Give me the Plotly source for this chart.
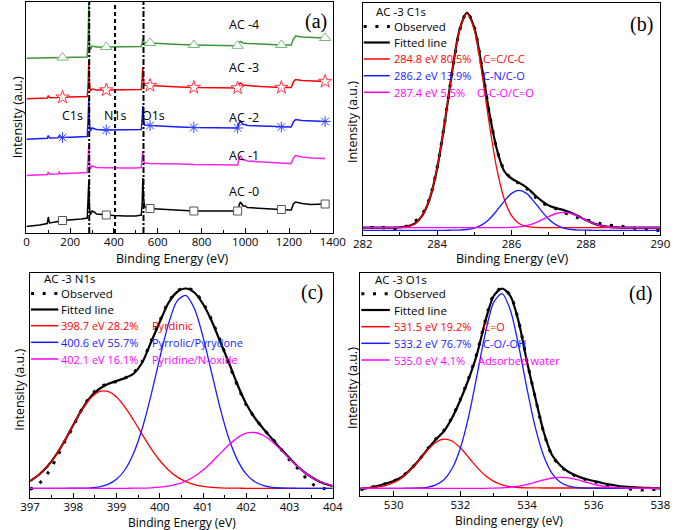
import plotly.graph_objects as go

W, H = 685, 530
FONT = "Open Sans"

# ---------------- (a) survey spectra ----------------
survey_x = [0, 30, 60, 95, 100, 105, 145, 150, 155, 165,
            200, 250, 278, 282, 285, 288, 292, 300, 310, 320,
            365, 400, 450, 500, 525, 529, 532, 535, 540, 565,
            600, 700, 765, 850, 950, 965, 972, 978, 990, 1000,
            1010, 1070, 1100, 1165, 1200, 1210, 1220, 1230, 1260, 1300,
            1365]
survey_ac0 = [6.5, 7, 8, 9.5, 16, 10, 11.5, 15, 12, 12.5,
              13, 14, 15, 30, 52, 25, 18, 22, 21, 19,
              18, 17.5, 17, 17, 18, 30, 55, 35, 26, 24.5,
              24, 23, 22, 22, 21.5, 22, 28, 31, 27, 27,
              25.5, 24.5, 24, 23.5, 23, 23, 29, 31, 29.5, 28.5,
              29]
survey_ac1 = [57.5, 57.8, 58, 58.5, 61, 58.7, 59, 61, 59.2, 59.3,
              59.6, 60.2, 60.5, 75, 88, 70, 64, 67, 66.5, 65.5,
              65.3, 65, 65, 65, 65.5, 75, 82, 72, 70, 69.5,
              69.5, 69, 68.5, 68, 67.5, 68, 75, 77, 73, 73,
              72, 71, 70.5, 70, 69.5, 69.5, 75, 77.5, 76, 75,
              74.5]
survey_ac2 = [93.7, 94, 94.3, 94.7, 97.5, 95, 95.3, 97, 95.5, 95.5,
              95.8, 96.3, 96.5, 115, 135, 110, 102, 105, 104.5, 103.5,
              103, 103, 103, 103, 103.5, 115, 127, 112, 108, 107.5,
              107, 106, 105.5, 105, 104.5, 105, 110, 112, 108.5, 108.5,
              107.5, 107, 106.5, 106, 106, 106, 111, 113.5, 112.5, 112,
              111.5]
survey_ac3 = [134.3, 134.5, 134.8, 135, 137.5, 135.2, 135.5, 137, 135.7, 135.8,
              136, 136.3, 136.5, 150, 172, 150, 142, 144, 143.5, 143,
              143, 143, 143, 143, 143.5, 155, 166, 152, 148, 147.5,
              147, 146, 145.5, 145, 144.5, 145, 149, 150, 148, 148,
              147.5, 146.5, 146, 145.5, 145.5, 145.5, 151, 153.5, 152.5, 152,
              151.5]
survey_ac4 = [174.7, 174.8, 175, 175.1, 175.5, 175.2, 175.3, 175.6, 175.4, 175.4,
              175.5, 175.7, 176, 195, 229, 190, 183, 187, 186.5, 186,
              186, 186, 186, 186, 186.5, 190, 194, 191, 190.5, 190,
              189.5, 188.5, 188, 187.5, 187, 187.2, 190.5, 191.5, 190, 190,
              189.5, 189, 188.5, 188, 188, 188, 194, 197, 196, 195.5,
              195]
survey_names = ["AC -0", "AC -1", "AC -2", "AC -3", "AC -4"]
survey_marker_x = [165, 365, 565, 765, 965, 1165, 1365]
survey_peak_names = ["C1s", "N1s", "O1s"]
survey_peak_pos = [287, 405, 535]

# ---------------- (b) C1s ----------------
c1s_x = [282.0, 282.2, 282.4, 282.6, 282.8, 283.0, 283.2, 283.4, 283.6, 283.8,
         284.0, 284.2, 284.4, 284.6, 284.8, 285.0, 285.2, 285.4, 285.6, 285.8,
         286.0, 286.2, 286.4, 286.6, 286.8, 287.0, 287.2, 287.4, 287.6, 287.8,
         288.0, 288.2, 288.4, 288.6, 288.8, 289.0, 289.2, 289.4, 289.6, 289.8, 290.0]
c1s_observed = [None, 7.6, 7.6, 7.3, 6.6, 6.4, 9.2, 13.5, 21.0, 37.0,
                67.5, 112.0, 162.0, 204.0, 222.5, 207.5, 168.5, 123.0, 86.0, 65.0,
                56.0, 51.5, 46.5, 39.5, 32.5, 29.3, 26.0, 22.5, 19.8, 17.0,
                15.0, 13.8, 11.3, 10.0, 9.2, 8.5, 7.5, 6.3, 5.5, 4.8, 4.5]
c1s_fit = [7.3, 7.3, 7.3, 7.3, 7.4, 7.6, 8.6, 11.5, 19.3, 36.3,
           66.8, 111.5, 162.8, 205.0, 222.1, 207.0, 168.1, 122.6, 86.3, 64.0,
           56.5, 52.4, 47.6, 40.9, 34.4, 29.6, 26.9, 24.9, 22.3, 18.7,
           14.9, 11.6, 9.4, 8.2, 7.6, 7.4, 7.3, 7.3, 7.3, 7.3, 7.3]
c1s_red = [0, 0, 0, 0, 0.1, 0.3, 1.3, 4.2, 12.0, 29.0,
           59.5, 104.2, 155.4, 197.5, 214, 197.5, 155.4, 104.2, 59.5, 29.0,
           12.0, 4.2, 1.3, 0.3, 0.1, 0, 0, 0, 0, 0,
           0, 0, 0, 0, 0, 0, 0, 0, 0, 0, 0]
c1s_blue = [0, 0, 0, 0, 0, 0, 0, 0, 0, 0,
            0, 0, 0.1, 0.2, 0.8, 2.2, 5.4, 11.1, 19.5, 29.0,
            36.9, 40, 36.9, 29.0, 19.5, 11.1, 5.4, 2.2, 0.8, 0.2,
            0.1, 0, 0, 0, 0, 0, 0, 0, 0, 0, 0]
c1s_magenta = [0, 0, 0, 0, 0, 0, 0, 0, 0, 0,
               0, 0, 0, 0, 0, 0, 0, 0, 0, 0.1,
               0.3, 0.9, 2.1, 4.3, 7.5, 11.2, 14.2, 15.4, 14.2, 11.2,
               7.5, 4.3, 2.1, 0.9, 0.3, 0.1, 0, 0, 0, 0, 0]
c1s_base = [7.3, 4.7, 7.3]
c1s_rows = ["284.8 eV 80.5%", "286.2 eV 13.9%", "287.4 eV 5.5%"]
c1s_species = ["C=C/C-C", "C-N/C-O", "O-C-O/C=O"]

# ---------------- (c) N1s ----------------
n1s_x = [397.0, 397.2, 397.4, 397.6, 397.8, 398.0, 398.2, 398.4, 398.6, 398.8,
         399.0, 399.2, 399.4, 399.6, 399.8, 400.0, 400.2, 400.4, 400.6, 400.8,
         401.0, 401.2, 401.4, 401.6, 401.8, 402.0, 402.2, 402.4, 402.6, 402.8,
         403.0, 403.2, 403.4, 403.6, 403.8, 404.0]
n1s_observed = [8.5, 14, 24, 39, 56, 71.5, 89, 102, 110.5, 114,
                116.5, 120, 125.5, 137, 157, 177, 196, 207, 210.5, 206.5,
                195, 178, 157, 134, 112, 93, 80, 69, 59.5, 49,
                38, 29, 19, 12, 9.5, 8.5]
n1s_fit = [17.0, 23.0, 31.5, 43.0, 57.0, 73.0, 88.5, 101, 109, 114,
           117, 120, 124.5, 136, 156, 176, 195, 206, 209.5, 205.5,
           194, 177, 156, 135, 113, 94, 80, 69, 59, 49,
           40, 31, 24, 18.5, 14.5, 12]
n1s_red = [7.5, 13.2, 21.7, 33.3, 47.5, 63.1, 78.1, 90.1, 96.7, 96.9,
           91.3, 81.0, 67.8, 53.4, 39.7, 27.8, 18.3, 11.4, 6.7, 3.7,
           1.9, 0.9, 0.4, 0.2, 0.1, 0, 0, 0, 0, 0,
           0, 0, 0, 0, 0, 0]
n1s_blue = [0, 0, 0, 0, 0, 0.1, 0.2, 0.5, 1.5, 3.9,
            9.0, 18.8, 35.5, 60.5, 93.4, 130.2, 164.2, 187.2, 192.9, 179.8,
            151.5, 115.4, 79.5, 49.5, 27.9, 14.2, 6.5, 2.7, 1.0, 0.3,
            0.1, 0, 0, 0, 0, 0]
n1s_magenta = [0, 0, 0, 0, 0, 0, 0, 0, 0, 0,
               0, 0, 0.1, 0.2, 0.5, 1.1, 2.2, 4.1, 7.2, 11.8,
               18.2, 26.1, 34.9, 43.5, 50.7, 55.1, 55.8, 52.8, 46.6, 38.4,
               29.5, 21.2, 14.2, 8.8, 5.2, 2.8]
n1s_base = [9.7, 9.7, 9.7]
n1s_rows = ["398.7 eV 28.2%", "400.6 eV 55.7%", "402.1 eV 16.1%"]
n1s_species = ["Pyrdinic", "Pyrrolic/Pyrydone", "Pyridine/N-oxide"]

# ---------------- (d) O1s ----------------
o1s_x = [529.0, 529.25, 529.5, 529.75, 530.0, 530.25, 530.5, 530.75, 531.0, 531.25,
         531.5, 531.75, 532.0, 532.25, 532.5, 532.75, 533.0, 533.25, 533.5, 533.75,
         534.0, 534.25, 534.5, 534.75, 535.0, 535.25, 535.5, 535.75, 536.0, 536.25,
         536.5, 536.75, 537.0, 537.25, 537.5, 537.75, 538.0]
o1s_observed = [6.3, 8.5, 9.8, 12.3, 14.8, 19.5, 26.5, 35.5, 46.5, 56.5,
                65, 78.5, 96.5, 118, 143, 176, 201, 208, 200.5, 174.5,
                134.5, 98, 63.5, 40.5, 30, 23.5, 19.5, 16.5, 14.5, 12.2,
                10, 9.2, 7.5, 6.5, 6.0, 6.5, 6.5]
o1s_fit = [6.5, 8, 10, 12.3, 15, 19, 26.5, 35.5, 46, 56,
           64.5, 78, 96, 117, 142, 175, 200, 207.5, 200, 174,
           134, 98, 64, 41, 30.5, 24, 20, 17, 15, 13,
           11.3, 10, 9.2, 8.6, 8.2, 7.9, 7.7]
o1s_red = [0.1, 0.4, 1.0, 2.4, 5.3, 10.3, 17.8, 27.3, 37.3, 45.3,
           48.9, 47.0, 40.2, 30.5, 20.6, 12.4, 6.6, 3.2, 1.3, 0.5,
           0.2, 0.1, 0, 0, 0, 0, 0, 0, 0, 0,
           0, 0, 0, 0, 0, 0, 0]
o1s_blue = [0, 0, 0, 0, 0, 0, 0.1, 0.3, 1.0, 3.1,
            8.3, 19.5, 40.1, 72.0, 113.1, 155.1, 185.9, 194.7, 178.1, 142.3,
            99.3, 60.6, 32.3, 15.0, 6.1, 2.2, 0.7, 0.2, 0.1, 0,
            0, 0, 0, 0, 0, 0, 0]
o1s_magenta = [0, 0, 0, 0, 0, 0, 0, 0, 0, 0,
               0, 0, 0, 0, 0, 0, 0.2, 0.5, 1.1, 2.2,
               3.9, 6.1, 8.4, 10.3, 11.0, 10.4, 8.6, 6.3, 4.0, 2.3,
               1.1, 0.5, 0.2, 0, 0, 0, 0]
o1s_base = [8.0, 7.7, 7.7]
o1s_rows = ["531.5 eV 19.2%", "533.2 eV 76.7%", "535.0 eV 4.1%"]
o1s_species = ["C=O", "C-O/-OH", "Adsorbed water"]

# ---------------- styling ----------------
RED, BLUE, MAG = "#ff0000", "#1a1aff", "#ff00ff"
OBS_DASH = "3px,8.7px"


def px(x, y):
    return x / W, 1 - y / H


fig = go.Figure()
annotations = []
shapes = []


def text(x, y, s, size=12, color="black", xanchor="left", family=FONT, angle=0):
    X, Y = px(x, y)
    annotations.append(dict(x=X, y=Y, xref="paper", yref="paper", text=s, showarrow=False,
                            xanchor=xanchor, yanchor="middle", textangle=angle,
                            font=dict(family=family, size=size, color=color)))


def seg(x0, x1, y, color, width, dash="solid"):
    X0, Y = px(x0, y)
    X1, _ = px(x1, y)
    shapes.append(dict(type="line", xref="paper", yref="paper", x0=X0, x1=X1, y0=Y, y1=Y,
                       line=dict(color=color, width=width, dash=dash)))


def xax(l, r, rng, dtick, minor, anchor, tick0=None):
    return dict(domain=[l / W, r / W], range=rng, tickmode="linear", dtick=dtick,
                tick0=tick0 if tick0 is not None else rng[0],
                ticks="inside", ticklen=5, tickwidth=1.2, tickcolor="black",
                showline=True, linecolor="black", linewidth=1.3, mirror=True,
                showgrid=False, zeroline=False, anchor=anchor, ticklabelstandoff=-2,
                minor=dict(dtick=minor, ticks="inside", ticklen=3, tickwidth=1,
                           tickcolor="black", showgrid=False),
                tickfont=dict(family=FONT, size=11.5, color="black"))


def yax(b, t, anchor):
    return dict(domain=[1 - b / H, 1 - t / H], range=[0, b - t], showticklabels=False,
                ticks="", showline=True, linecolor="black", linewidth=1.3, mirror=True,
                showgrid=False, zeroline=False, anchor=anchor)


# panel geometry in pixels: left, right, bottom, top
geo = {
    "a": (17, 334, 233, 2),
    "b": (365, 673, 235, 3),
    "c": (20.7, 334, 498, 273),
    "d": (362.5, 673, 496, 273),
}

layout_axes = {}
l, r, b, t = geo["a"]
layout_axes["xaxis"] = xax(l, r, [0, 1400], 200, 100, "y")
layout_axes["yaxis"] = yax(b, t, "x")
l, r, b, t = geo["b"]
layout_axes["xaxis2"] = xax(l, r, [282, 290], 2, 1, "y2")
layout_axes["yaxis2"] = yax(b, t, "x2")
l, r, b, t = geo["c"]
layout_axes["xaxis3"] = xax(l, r, [397, 404], 1, 0.5, "y3")
layout_axes["yaxis3"] = yax(b, t, "x3")
l, r, b, t = geo["d"]
layout_axes["xaxis4"] = xax(l, r, [529, 538], 2, 1, "y4", tick0=530)
layout_axes["yaxis4"] = yax(b, t, "x4")

# ---- (a) traces ----
survey_series = [survey_ac0, survey_ac1, survey_ac2, survey_ac3, survey_ac4]
survey_colors = ["black", "#ff22ee", "#1a1aff", "#ff0000", "#3a963a"]
marker_styles = [
    dict(symbol="square", size=8, color="white", line=dict(color="#555555", width=1)),
    None,
    dict(symbol="asterisk-open", size=9, color="#3344ff", line=dict(color="#3344ff", width=1)),
    dict(symbol="star", size=10, color="white", line=dict(color="#ff3344", width=1)),
    dict(symbol="triangle-up", size=10, color="white", line=dict(color="#77bb77", width=1)),
]
marker_idx = [survey_x.index(m) for m in survey_marker_x]
for ys, col, ms in zip(survey_series, survey_colors, marker_styles):
    fig.add_trace(go.Scatter(x=survey_x, y=ys, mode="lines", line=dict(color=col, width=1.5),
                             xaxis="x", yaxis="y", showlegend=False, hoverinfo="skip"))
    if ms is not None:
        fig.add_trace(go.Scatter(x=[survey_x[i] for i in marker_idx], y=[ys[i] for i in marker_idx],
                                 mode="markers", marker=ms, xaxis="x", yaxis="y",
                                 showlegend=False, hoverinfo="skip"))

peak_dash = ["6px,2px,2px,2px", "4px,3px", "6px,2px,2px,2px"]
for pos, dsh in zip(survey_peak_pos, peak_dash):
    shapes.append(dict(type="line", xref="x", yref="y domain", x0=pos, x1=pos, y0=0, y1=1,
                       line=dict(color="black", width=2, dash=dsh)))

# labels for (a)
label_y = [191, 155, 117, 68, 25]
for name, yy in zip(survey_names, label_y):
    text(242, yy, name, size=12.5, xanchor="center")
for name, xx in zip(survey_peak_names, [65, 109, 148]):
    text(xx, 115, name, size=12.5, xanchor="center")
text(317, 22, "(a)", size=20, xanchor="center", family="Liberation Serif")


# ---- detail panels ----
def detail(xs, obs, fit, comps, bases, ax, ay):
    fig.add_trace(go.Scatter(x=xs, y=obs, mode="lines", line=dict(color="black", width=3, dash=OBS_DASH,
                                                                  shape="spline", smoothing=0.8),
                             xaxis=ax, yaxis=ay, showlegend=False, hoverinfo="skip"))
    fig.add_trace(go.Scatter(x=xs, y=fit, mode="lines", line=dict(color="black", width=2.2,
                                                                  shape="spline", smoothing=0.8),
                             xaxis=ax, yaxis=ay, showlegend=False, hoverinfo="skip"))
    for comp, base, col in zip(comps, bases, [RED, BLUE, MAG]):
        fig.add_trace(go.Scatter(x=xs, y=[base + v for v in comp], mode="lines",
                                 line=dict(color=col, width=1.3, shape="spline", smoothing=0.8),
                                 xaxis=ax, yaxis=ay, showlegend=False, hoverinfo="skip"))


detail(c1s_x, c1s_observed, c1s_fit, [c1s_red, c1s_blue, c1s_magenta], c1s_base, "x2", "y2")
detail(n1s_x, n1s_observed, n1s_fit, [n1s_red, n1s_blue, n1s_magenta], n1s_base, "x3", "y3")
detail(o1s_x, o1s_observed, o1s_fit, [o1s_red, o1s_blue, o1s_magenta], o1s_base, "x4", "y4")


def legend_block(title, rows, species, x_left, line_end, text_x, sp_x, title_x, title_y, row_y):
    text(title_x, title_y, title, size=11.5)
    seg(x_left + 1, line_end, row_y[0], "black", 3, OBS_DASH)
    text(text_x, row_y[0], "Observed", size=11.5)
    seg(x_left + 1, line_end, row_y[1], "black", 2.2)
    text(text_x, row_y[1], "Fitted line", size=11.5)
    for i, col in enumerate([RED, BLUE, MAG]):
        seg(x_left + 1, line_end, row_y[2 + i], col, 1.5)
        text(text_x, row_y[2 + i], rows[i], size=11, color=col)
        text(sp_x[i], row_y[2 + i], species[i], size=11, color=col)


legend_block("AC -3 C1s", c1s_rows, c1s_species, 365, 393, 395, [487, 487, 481], 377, 11.8,
             [26.5, 42.5, 59, 75.7, 92.3])
legend_block("AC -3 N1s", n1s_rows, n1s_species, 20.7, 50, 51, [145, 145, 145], 33, 278.8,
             [293.4, 309.5, 325.7, 342.3, 359])
legend_block("AC -3 O1s", o1s_rows, o1s_species, 362.5, 393, 395, [487, 487, 482], 376, 279.2,
             [293.8, 310, 326.7, 343.3, 360])

text(653, 25, "(b)", size=20, xanchor="center", family="Liberation Serif")
text(313, 292, "(c)", size=20, xanchor="center", family="Liberation Serif")
text(652, 293, "(d)", size=20, xanchor="center", family="Liberation Serif")

# axis titles
text(168, 258, "Binding Energy (eV)", size=12.5, xanchor="center")
text(520, 258, "Binding Energy (eV)", size=12.5, xanchor="center")
text(178, 522, "Binding Energy (eV)", size=12, xanchor="center")
text(516, 520.5, "Binding energy (eV)", size=12, xanchor="center")
text(7.5, 117, "Intensity (a.u.)", size=12.5, xanchor="center", angle=-90)
text(355, 122, "Intensity (a.u.)", size=12.5, xanchor="center", angle=-90)
text(9, 390, "Intensity (a.u.)", size=12.5, xanchor="center", angle=-90)
text(354, 388, "Intensity (a.u.)", size=12.5, xanchor="center", angle=-90)

fig.update_layout(width=W, height=H, autosize=False, margin=dict(l=0, r=0, t=0, b=0),
                  paper_bgcolor="white", plot_bgcolor="white", showlegend=False,
                  font=dict(family=FONT, color="black"),
                  annotations=annotations, shapes=shapes, **layout_axes)

fig.write_html("out.html")
